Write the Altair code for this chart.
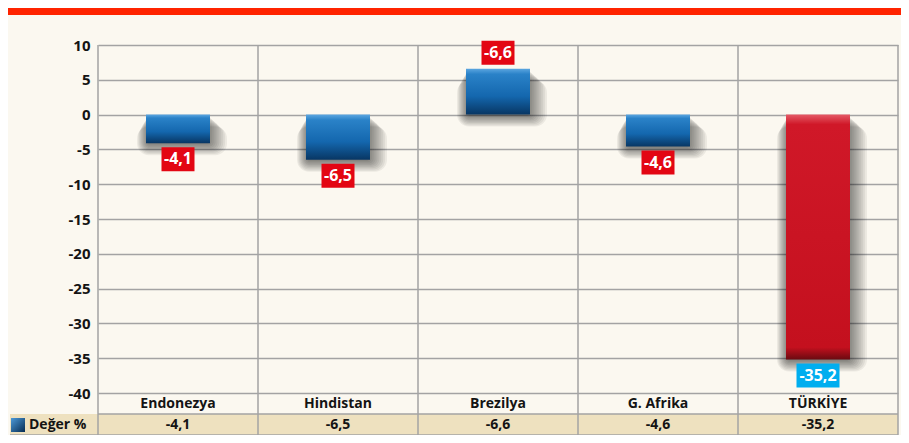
import altair as alt
import pandas as pd

# ---- data ----
categories = ["Endonezya", "Hindistan", "Brezilya", "G. Afrika", "TÜRKİYE"]
bar_values = [-4.1, -6.5, 6.6, -4.6, -35.2]      # as drawn (Brezilya is drawn upward)
labels = ["-4,1", "-6,5", "-6,6", "-4,6", "-35,2"]  # printed values
y_ticks = [10, 5, 0, -5, -10, -15, -20, -25, -30, -35, -40]
legend_label = "Değer %"
highlight = "TÜRKİYE"

df = pd.DataFrame({"cat": categories, "v": bar_values, "label": labels})

F = "Open Sans"
GRID = "#A3A3A3"
W, H = 800, 348

xs = alt.Scale(domain=categories, paddingInner=0, paddingOuter=0)
ys = alt.Scale(domain=[-40, 10], nice=False, zero=False)
y_axis = alt.Axis(values=y_ticks, grid=True, gridColor=GRID, gridWidth=1.5,
                  ticks=False, domain=False, labelFont=F, labelFontSize=15,
                  labelFontWeight="bold", labelColor="#141414",
                  labelExpr="'' + datum.value",
                  labelPadding=8, title=None)
X = alt.X("cat:N", scale=xs, axis=None)
X0 = alt.X("cat:N", scale=xs, axis=None, bandPosition=0)
Y = alt.Y("v:Q", scale=ys, axis=y_axis)

one = alt.Data(values=[{}])
base = alt.Chart(df)

blue_grad = alt.Gradient(
    gradient="linear", x1=0, y1=0, x2=0, y2=1,
    stops=[alt.GradientStop(offset=0, color="#5CA6E0"),
           alt.GradientStop(offset=0.12, color="#2A82C8"),
           alt.GradientStop(offset=0.6, color="#1467AE"),
           alt.GradientStop(offset=1, color="#083663")])
red_grad = alt.Gradient(
    gradient="linear", x1=0, y1=0, x2=0, y2=1,
    stops=[alt.GradientStop(offset=0, color="#E45A66"),
           alt.GradientStop(offset=0.04, color="#D01828"),
           alt.GradientStop(offset=0.95, color="#C4101E"),
           alt.GradientStop(offset=1, color="#6A0A10")])
legend_grad = alt.Gradient(
    gradient="linear", x1=0, y1=0, x2=1, y2=1,
    stops=[alt.GradientStop(offset=0, color="#4C9AD8"),
           alt.GradientStop(offset=1, color="#062C52")])

header = alt.Chart(one).mark_rect(color="#FF2400").encode(
    x=alt.value(-90), x2=alt.value(803), y=alt.value(-37), y2=alt.value(-30))

tan_row = alt.Chart(one).mark_rect(color="#EEE1BF").encode(
    x=alt.value(-88), x2=alt.value(W), y=alt.value(369), y2=alt.value(390))

line_mid = alt.Chart(one).mark_rule(color=GRID, strokeWidth=1.5).encode(
    x=alt.value(0), x2=alt.value(W), y=alt.value(369))
line_bot = alt.Chart(one).mark_rule(color=GRID, strokeWidth=1.5).encode(
    x=alt.value(-88), x2=alt.value(W), y=alt.value(390))

vlines = base.mark_rule(color=GRID, strokeWidth=1.5).encode(
    x=X0, y=alt.value(0), y2=alt.value(390))
vline_right = alt.Chart(one).mark_rule(color=GRID, strokeWidth=1.5).encode(
    x=alt.value(W), y=alt.value(0), y2=alt.value(390))

shadows = []
for k in range(1, 11):
    shadows.append(
        base.mark_bar(color="black", opacity=0.06, size=60 + 3 * k, xOffset=0.4 * k,
                      yOffset=1.2 * k, y2Offset=1.2 * k, cornerRadius=2 + k).encode(
            x=X, y=Y, y2=alt.datum(0)))

bars_blue = base.transform_filter(alt.datum.cat != highlight).mark_bar(
    fill=blue_grad, size=64).encode(x=X, y=Y, y2=alt.datum(0))
bars_red = base.transform_filter(alt.datum.cat == highlight).mark_bar(
    fill=red_grad, size=64).encode(x=X, y=Y, y2=alt.datum(0))

box_color = alt.when(alt.datum.cat == highlight).then(alt.value("#00AEEF")).otherwise(alt.value("#E30613"))

calc = base.transform_calculate(w="length(datum.label) * 10 - 7")
box_neg = calc.transform_filter(alt.datum.v < 0).mark_bar(yOffset=4, y2Offset=28).encode(
    x=X, y=Y, y2=alt.Y2("v:Q"), size=alt.Size("w:Q", scale=None), color=box_color)
box_pos = calc.transform_filter(alt.datum.v >= 0).mark_bar(yOffset=-4, y2Offset=-28).encode(
    x=X, y=Y, y2=alt.Y2("v:Q"), size=alt.Size("w:Q", scale=None), color=box_color)

txt_neg = base.transform_filter(alt.datum.v < 0).mark_text(
    dy=16, baseline="middle", font=F, fontSize=16, fontWeight="bold", color="white").encode(
    x=X, y=Y, text="label:N")
txt_pos = base.transform_filter(alt.datum.v >= 0).mark_text(
    dy=-16, baseline="middle", font=F, fontSize=16, fontWeight="bold", color="white").encode(
    x=X, y=Y, text="label:N")

cat_text = base.mark_text(baseline="middle", font=F, fontSize=14, fontWeight="bold",
                          color="#141414").encode(x=X, y=alt.value(358.5), text="cat:N")
val_text = base.mark_text(baseline="middle", font=F, fontSize=14, fontWeight="bold",
                          color="#141414").encode(x=X, y=alt.value(379.5), text="label:N")

leg_sq = alt.Chart(one).mark_rect(fill=legend_grad).encode(
    x=alt.value(-87), x2=alt.value(-73), y=alt.value(373), y2=alt.value(387))
leg_txt = alt.Chart(one).mark_text(align="left", baseline="middle", font=F, fontSize=14,
                                   fontWeight="bold", color="#141414").encode(
    x=alt.value(-69), y=alt.value(380), text=alt.value(legend_label))

chart = alt.layer(
    header, tan_row, vlines, vline_right, line_mid, line_bot,
    *shadows, bars_blue, bars_red, box_neg, box_pos, txt_neg, txt_pos,
    cat_text, val_text, leg_sq, leg_txt
).properties(
    width=W, height=H,
    padding={"left": 90, "top": 37, "right": 3, "bottom": 42},
    autosize=alt.AutoSizeParams(type="none"),
    background="#FBF8F0",
).configure_view(stroke=None)

chart.save("out.html", embed_options={"renderer": "svg", "actions": False})
